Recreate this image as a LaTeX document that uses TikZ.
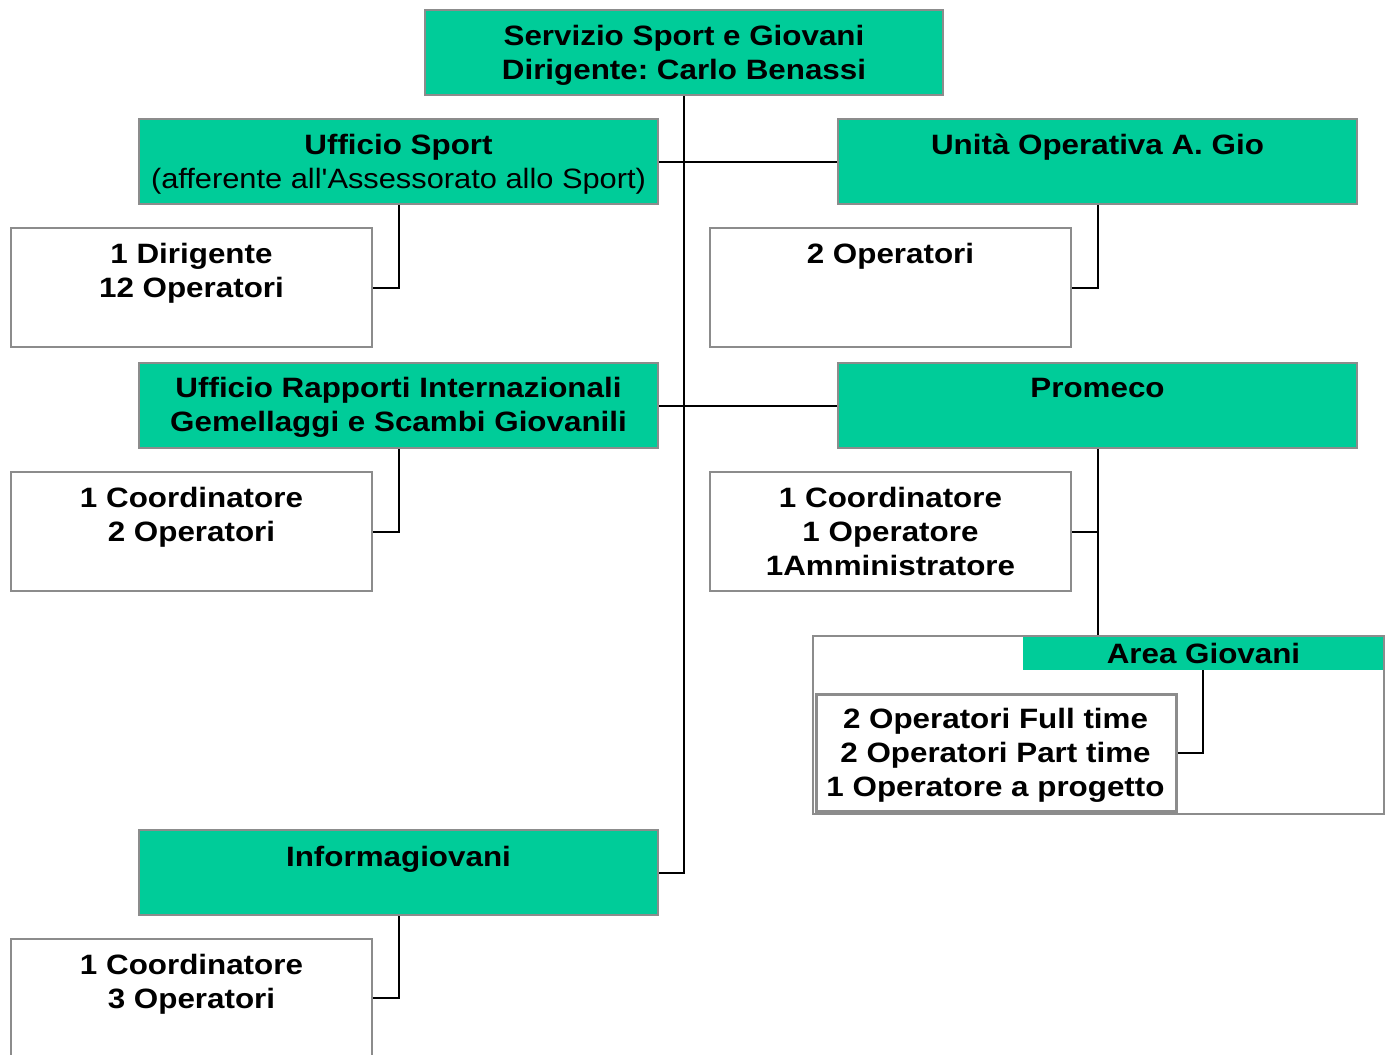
\documentclass[tikz,border=0pt]{standalone}
\usepackage{fontspec}
\setmainfont{Liberation Sans}[FakeStretch=1.12,Ligatures=TeXOff]
\newfontfamily\regfont{Liberation Sans}[FakeStretch=1.10,Ligatures=TeXOff]
\usetikzlibrary{fit}
\definecolor{boxgreen}{HTML}{00CC99}
\definecolor{boxgray}{HTML}{8C8C8C}
\frenchspacing
\begin{document}
\begin{tikzpicture}[x=0.75pt,y=-0.75pt,
  greenbox/.style={fill=boxgreen,draw=boxgray,line width=1.5pt,inner sep=0pt},
  whitebox/.style={fill=white,draw=boxgray,line width=1.5pt,inner sep=0pt},
  title/.style={font=\fontsize{21}{25.5}\selectfont\bfseries,align=center,inner sep=0pt},
  link/.style={draw=black,line width=1.5pt}]
\useasboundingbox (0,0) rectangle (1389,1054);
% boxes
\node[greenbox,fit={(425,10)(943,95)}] (top) {};
\node[greenbox,fit={(139,119)(658,204)}] (us) {};
\node[greenbox,fit={(838,119)(1357,204)}] (uo) {};
\node[whitebox,fit={(11,228)(372,347)}] (usd) {};
\node[whitebox,fit={(710,228)(1071,347)}] (uod) {};
\node[greenbox,fit={(139,363)(658,448)}] (ri) {};
\node[greenbox,fit={(838,363)(1357,448)}] (pr) {};
\node[whitebox,fit={(11,472)(372,591)}] (rid) {};
\node[whitebox,fit={(710,472)(1071,591)}] (prd) {};
\node[whitebox,fit={(813,636)(1384,814)}] (ag) {};
\node[fill=boxgreen,inner sep=0pt,fit={(1023,637)(1383,670)}] (agbar) {};
\node[whitebox,line width=2.25pt,fit={(816,694)(1176,811)}] (agd) {};
\node[greenbox,fit={(139,830)(658,915)}] (ig) {};
\node[whitebox,fit={(11,939)(372,1057)}] (igd) {};
% texts
\node[title] (toptxt) at (684,55) {Servizio Sport e Giovani\\Dirigente: Carlo Benassi};
\node[title] (ustxt) at (398.5,164.5) {Ufficio Sport\\\mdseries\regfont(afferente all'Assessorato allo Sport)};
\node[title] (uotxt) at (1097.5,147) {Unità Operativa A. Gio};
\node[title] (usdtxt) at (191.5,273.5) {1 Dirigente\\12 Operatori};
\node[title] (uodtxt) at (890.5,256) {2 Operatori};
\node[title] (ritxt) at (398.5,407.5) {Ufficio Rapporti Internazionali\\Gemellaggi e Scambi Giovanili};
\node[title] (prtxt) at (1097.5,388) {Promeco};
\node[title] (ridtxt) at (191.5,517.5) {1 Coordinatore\\2 Operatori};
\node[title] (prdtxt) at (890.5,531) {1 Coordinatore\\1 Operatore\\1Amministratore};
\node[title] (agtxt) at (1203.5,653) {Area Giovani};
\node[title] (agdtxt) at (995.5,755.5) {2 Operatori Full time\\2 Operatori Part time\\1 Operatore a progetto};
\node[title] (igtxt) at (398.5,859) {Informagiovani};
\node[title] (igdtxt) at (191.5,984.5) {1 Coordinatore\\3 Operatori};
% connectors
\draw[link] (top.south) -- (top.south |- ig.east) -- (ig.east);
\draw[link] (us.east) -- (uo.west);
\draw[link] (ri.east) -- (pr.west);
\draw[link] (us.south) |- (usd.east);
\draw[link] (uo.south) |- (uod.east);
\draw[link] (ri.south) |- (rid.east);
\draw[link] (pr.south) -- (pr.south |- ag.north);
\draw[link] (pr.south |- prd.east) -- (prd.east);
\draw[link] (agbar.south) |- (agd.east);
\draw[link] (ig.south) |- (igd.east);
\end{tikzpicture}
\end{document}
